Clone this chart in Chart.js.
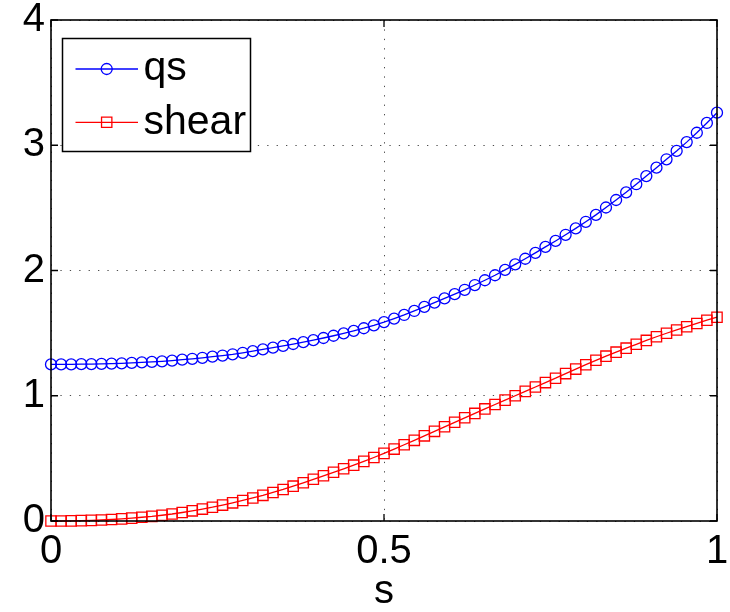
<!DOCTYPE html>
<html>
<head>
<meta charset="utf-8">
<script src="https://cdn.jsdelivr.net/npm/chart.js@4.4.1/dist/chart.umd.min.js"></script>
<style>
  html, body { margin: 0; padding: 0; background: #fff; }
  #wrap { width: 730px; height: 612px; }
</style>
</head>
<body>
<div id="wrap"><canvas id="c" width="730" height="612"></canvas></div>
<script>
// ---- data ----
const sValues = [0, 0.0152, 0.0303, 0.0455, 0.0606, 0.0758, 0.0909, 0.1061, 0.1212, 0.1364,
  0.1515, 0.1667, 0.1818, 0.1970, 0.2121, 0.2273, 0.2424, 0.2576, 0.2727, 0.2879,
  0.3030, 0.3182, 0.3333, 0.3485, 0.3636, 0.3788, 0.3939, 0.4091, 0.4242, 0.4394,
  0.4545, 0.4697, 0.4848, 0.5, 0.5152, 0.5303, 0.5455, 0.5606, 0.5758, 0.5909,
  0.6061, 0.6212, 0.6364, 0.6515, 0.6667, 0.6818, 0.6970, 0.7121, 0.7273, 0.7424,
  0.7576, 0.7727, 0.7879, 0.8030, 0.8182, 0.8333, 0.8485, 0.8636, 0.8788, 0.8939,
  0.9091, 0.9242, 0.9394, 0.9545, 0.9697, 0.9848, 1];

const qsValues = [1.250, 1.250, 1.251, 1.252, 1.253, 1.255, 1.257, 1.259, 1.262, 1.266,
  1.270, 1.275, 1.281, 1.288, 1.295, 1.303, 1.312, 1.321, 1.331, 1.343,
  1.356, 1.370, 1.384, 1.398, 1.413, 1.428, 1.444, 1.461, 1.479, 1.498,
  1.518, 1.539, 1.562, 1.588, 1.616, 1.645, 1.677, 1.710, 1.743, 1.777,
  1.811, 1.846, 1.884, 1.922, 1.962, 2.005, 2.049, 2.094, 2.141, 2.189,
  2.236, 2.285, 2.336, 2.389, 2.444, 2.503, 2.563, 2.624, 2.689, 2.754,
  2.821, 2.888, 2.955, 3.025, 3.100, 3.178, 3.260];

const shearValues = [0.000, 0.000, 0.001, 0.003, 0.005, 0.008, 0.012, 0.017, 0.023, 0.030,
  0.037, 0.046, 0.056, 0.068, 0.081, 0.095, 0.110, 0.127, 0.145, 0.164,
  0.184, 0.205, 0.228, 0.252, 0.278, 0.305, 0.333, 0.361, 0.389, 0.417,
  0.446, 0.476, 0.507, 0.540, 0.574, 0.609, 0.644, 0.680, 0.716, 0.752,
  0.788, 0.824, 0.859, 0.895, 0.930, 0.965, 1.000, 1.035, 1.070, 1.105,
  1.140, 1.177, 1.213, 1.248, 1.283, 1.316, 1.348, 1.380, 1.411, 1.442,
  1.471, 1.499, 1.525, 1.551, 1.577, 1.603, 1.627];

const seriesNames = ['qs', 'shear'];
const xTickValues = [0, 0.5, 1];
const yTickValues = [0, 1, 2, 3, 4];
const xTitle = 's';

// ---- chart ----
const FONT = "'Liberation Sans', Arial, Helvetica, sans-serif";

const toPoints = (xs, ys) => xs.map((x, i) => ({ x: x, y: ys[i] }));

const frameAndTicks = {
  id: 'frameAndTicks',
  afterDatasetsDraw(chart) {
    const { ctx, chartArea: a, scales } = chart;
    ctx.save();
    ctx.strokeStyle = '#000';
    ctx.lineWidth = 1.6;
    ctx.setLineDash([]);
    ctx.strokeRect(a.left, a.top, a.right - a.left, a.bottom - a.top);
    const tl = 7;
    ctx.lineWidth = 1.3;
    ctx.beginPath();
    scales.x.ticks.forEach(t => {
      const px = scales.x.getPixelForValue(t.value);
      ctx.moveTo(px, a.bottom); ctx.lineTo(px, a.bottom - tl);
      ctx.moveTo(px, a.top); ctx.lineTo(px, a.top + tl);
    });
    scales.y.ticks.forEach(t => {
      const py = scales.y.getPixelForValue(t.value);
      ctx.moveTo(a.left, py); ctx.lineTo(a.left + tl, py);
      ctx.moveTo(a.right, py); ctx.lineTo(a.right - tl, py);
    });
    ctx.stroke();
    ctx.restore();
  }
};

const boxLegend = {
  id: 'boxLegend',
  afterDraw(chart) {
    const { ctx } = chart;
    const bx = 62.5, by = 38.5, bw = 188, bh = 113;
    ctx.save();
    ctx.fillStyle = '#fff';
    ctx.fillRect(bx, by, bw, bh);
    ctx.strokeStyle = '#000';
    ctx.lineWidth = 1.5;
    ctx.strokeRect(bx, by, bw, bh);
    const rowY = [69, 122.3];
    chart.data.datasets.forEach((ds, i) => {
      const y = rowY[i];
      ctx.strokeStyle = ds.borderColor;
      ctx.lineWidth = 1.3;
      ctx.beginPath();
      ctx.moveTo(75.5, y); ctx.lineTo(138, y);
      ctx.stroke();
      ctx.fillStyle = 'rgba(0,0,0,0)';
      ctx.strokeStyle = ds.pointBorderColor;
      ctx.lineWidth = 1.3;
      Chart.helpers.drawPoint(ctx, {
        pointStyle: ds.pointStyle, radius: ds.pointRadius, borderWidth: 1.3, rotation: 0
      }, 106.7, y);
      ctx.fillStyle = '#000';
      ctx.font = '41px ' + FONT;
      ctx.textAlign = 'left';
      ctx.textBaseline = 'middle';
      ctx.fillText(ds.label, 143.5, y);
    });
    ctx.restore();
  }
};

new Chart(document.getElementById('c'), {
  type: 'line',
  data: {
    datasets: [
      {
        label: seriesNames[0],
        data: toPoints(sValues, qsValues),
        borderColor: '#0000ff',
        borderWidth: 1.3,
        pointStyle: 'circle',
        pointRadius: 5.5,
        pointBorderWidth: 1.3,
        pointBorderColor: '#0000ff',
        pointBackgroundColor: 'rgba(0,0,0,0)',
        tension: 0,
        clip: false,
        fill: false
      },
      {
        label: seriesNames[1],
        data: toPoints(sValues, shearValues),
        borderColor: '#ff0000',
        borderWidth: 1.3,
        pointStyle: 'rect',
        pointRadius: 7.3,
        pointBorderWidth: 1.3,
        pointBorderColor: '#ff0000',
        pointBackgroundColor: 'rgba(0,0,0,0)',
        tension: 0,
        clip: false,
        fill: false
      }
    ]
  },
  options: {
    responsive: false,
    animation: false,
    events: [],
    layout: { padding: { top: 20, right: 13, bottom: 0, left: 0 } },
    plugins: { legend: { display: false }, tooltip: { enabled: false } },
    scales: {
      x: {
        type: 'linear',
        min: 0, max: 1,
        afterBuildTicks: s => { s.ticks = xTickValues.map(v => ({ value: v })); },
        afterFit: s => { s.height = 91; s.paddingLeft = 0; s.paddingRight = 0; },
        ticks: {
          color: '#000', padding: 7, maxRotation: 0, autoSkip: false,
          callback: v => String(v),
          font: { family: FONT, size: 40, lineHeight: 1.2 }
        },
        grid: { color: 'rgba(0,0,0,0.7)', lineWidth: 1, drawTicks: false },
        border: { display: false, dash: [1.3, 8.1] },
        title: {
          display: true, text: xTitle, color: '#000',
          padding: { top: 0, bottom: 0.5 },
          font: { family: FONT, size: 40, lineHeight: 1 }
        }
      },
      y: {
        type: 'linear',
        min: 0, max: 4,
        afterBuildTicks: s => { s.ticks = yTickValues.map(v => ({ value: v })); },
        afterFit: s => { s.width = 51; s.paddingTop = 0; s.paddingBottom = 0; },
        ticks: {
          color: '#000', padding: 6, autoSkip: false,
          callback: v => String(v),
          font: { family: FONT, size: 40, lineHeight: 1.2 }
        },
        grid: { color: 'rgba(0,0,0,0.7)', lineWidth: 1, drawTicks: false },
        border: { display: false, dash: [1.3, 8.1] }
      }
    }
  },
  plugins: [frameAndTicks, boxLegend]
});
</script>
</body>
</html>
